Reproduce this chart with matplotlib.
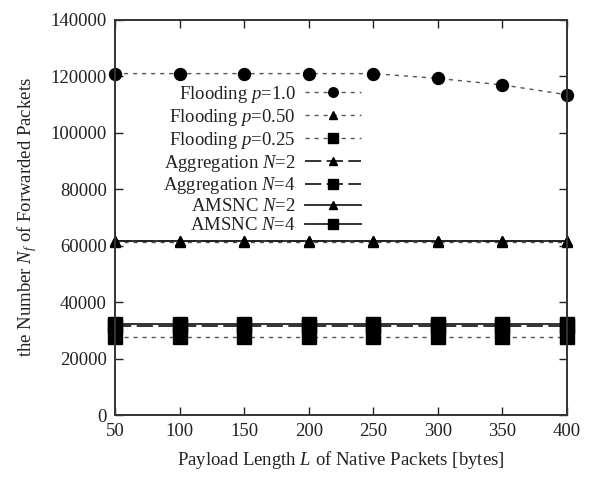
import matplotlib
matplotlib.use("Agg")
import matplotlib.pyplot as plt

plt.rcParams['font.family'] = ['Liberation Serif', 'DejaVu Serif']
plt.rcParams['mathtext.fontset'] = 'custom'
plt.rcParams['mathtext.rm'] = 'Liberation Serif'
plt.rcParams['mathtext.it'] = 'Liberation Serif:italic'

payload = [50, 100, 150, 200, 250, 300, 350, 400]
flood_10 = [121000, 121000, 121000, 121000, 121000, 119300, 117000, 113500]
flood_050 = [61200, 61200, 61200, 61200, 61200, 61200, 61200, 61200]
flood_025 = [27800, 27800, 27800, 27800, 27800, 27800, 27800, 27800]
agg_2 = [61500, 61500, 61500, 61500, 61500, 61500, 61500, 61500]
agg_4 = [31600, 31600, 31600, 31600, 31600, 31600, 31600, 31600]
amsnc_2 = [61700, 61700, 61700, 61700, 61700, 61700, 61700, 61700]
amsnc_4 = [32300, 32300, 32300, 32300, 32300, 32300, 32300, 32300]

labels = [r'Flooding $p$=1.0', r'Flooding $p$=0.50', r'Flooding $p$=0.25',
          r'Aggregation $N$=2', r'Aggregation $N$=4',
          r'AMSNC $N$=2', r'AMSNC $N$=4']
yticks = [0, 20000, 40000, 60000, 80000, 100000, 120000, 140000]

fig = plt.figure(figsize=(5.92, 4.78), dpi=100)
ax = fig.add_axes([115/592, 1 - 415/478, (567-115)/592, (415-20)/478])

dash = (0, (3, 3.5))
longdash = (0, (9, 3))
c = 'black'
ax.plot(payload, flood_10, linestyle=dash, color='#555555', lw=1.0, marker='o', ms=8.6, mfc=c, mec=c, label=labels[0])
ax.plot(payload, flood_050, linestyle=dash, color='#555555', lw=1.0, marker='^', ms=7.5, mfc=c, mec=c, label=labels[1])
ax.plot(payload, flood_025, linestyle=dash, color='#555555', lw=1.0, marker='s', ms=9.4, mfc=c, mec=c, label=labels[2])
ax.plot(payload, agg_2, linestyle=longdash, color='#222222', lw=1.3, marker='^', ms=7.5, mfc=c, mec=c, label=labels[3])
ax.plot(payload, agg_4, linestyle=longdash, color='#222222', lw=1.3, marker='s', ms=9.4, mfc=c, mec=c, label=labels[4])
ax.plot(payload, amsnc_2, linestyle='-', color='#222222', lw=1.3, marker='^', ms=7.5, mfc=c, mec=c, label=labels[5])
ax.plot(payload, amsnc_4, linestyle='-', color='#222222', lw=1.3, marker='s', ms=9.4, mfc=c, mec=c, label=labels[6])

ax.set_xlim(50, 400)
ax.set_ylim(0, 140000)
ax.set_xticks(payload)
ax.set_yticks(yticks)
ax.tick_params(direction='in', length=6, width=1.0, top=True, right=True,
               labelsize=13.5, colors='#222222', pad=6)
for s in ax.spines.values():
    s.set_linewidth(1.4)
    s.set_color('#333333')
for ln in ax.lines:
    ln.set_clip_on(False)

ax.set_xlabel(r'Payload Length $L$ of Native Packets [bytes]', fontsize=13.5, color='#222222', labelpad=6)
ax.set_ylabel(r'the Number $N_f$ of Forwarded Packets', fontsize=13.5, color='#222222', labelpad=8)

leg = ax.legend(loc='upper right', bbox_to_anchor=(0.545, 0.838), frameon=False,
                markerfirst=False, fontsize=13.5, handlelength=3.0, handletextpad=0.5,
                labelspacing=0.1, borderpad=0, borderaxespad=0, markerscale=0.8)
for t in leg.get_texts():
    t.set_color('#222222')

fig.savefig('out.png', dpi=100)
